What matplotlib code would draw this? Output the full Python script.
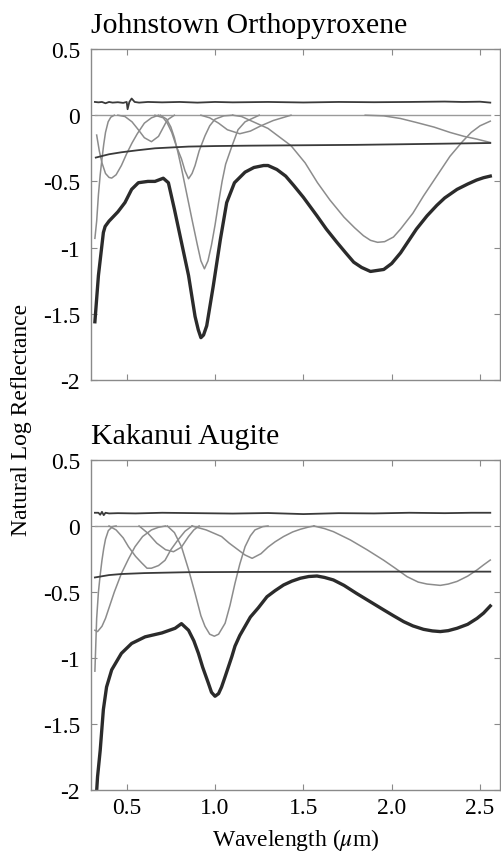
import matplotlib
matplotlib.use('Agg')
import matplotlib.pyplot as plt

plt.rcParams['font.family'] = ['Liberation Serif', 'DejaVu Serif']
plt.rcParams['mathtext.fontset'] = 'stix'
plt.rcParams['axes.unicode_minus'] = False

# ---------- Johnstown Orthopyroxene ----------
opx_wl = [0.32, 0.34, 0.368, 0.378, 0.40, 0.45, 0.49, 0.528, 0.566, 0.62, 0.66, 0.707,
          0.736, 0.77, 0.81, 0.85, 0.887, 0.905, 0.92, 0.935, 0.953, 0.99, 1.03, 1.066,
          1.11, 1.17, 1.22, 1.275, 1.30, 1.35, 1.40, 1.445, 1.50, 1.577, 1.63, 1.69, 1.74,
          1.785, 1.83, 1.88, 1.955, 2.0, 2.05, 2.14, 2.20, 2.256, 2.30, 2.37, 2.43, 2.48,
          2.52, 2.558]
opx_spec = [-1.56, -1.21, -0.886, -0.84, -0.80, -0.73, -0.66, -0.56, -0.51, -0.50, -0.50, -0.476,
            -0.51, -0.71, -0.96, -1.21, -1.52, -1.62, -1.68, -1.66, -1.59, -1.29, -0.94, -0.66,
            -0.51, -0.43, -0.395, -0.38, -0.38, -0.41, -0.46, -0.53, -0.62, -0.76, -0.86, -0.96, -1.04,
            -1.11, -1.15, -1.18, -1.165, -1.12, -1.04, -0.86, -0.76, -0.68, -0.625, -0.56, -0.52, -0.49,
            -0.472, -0.46]

opx_cont_wl = [0.325, 0.40, 0.47, 0.56, 0.66, 0.85, 1.0, 1.2, 1.5, 1.8, 2.03, 2.3, 2.558]
opx_cont = [-0.32, -0.295, -0.28, -0.265, -0.25, -0.237, -0.233, -0.23, -0.227, -0.224, -0.22, -0.215, -0.21]

opx_res_wl = [0.32, 0.34, 0.36, 0.38, 0.40, 0.42, 0.45, 0.48, 0.50, 0.505, 0.515, 0.528, 0.545,
              0.57, 0.62, 0.7, 0.8, 0.9, 1.0, 1.1, 1.3, 1.5, 1.7, 1.9, 2.1, 2.3, 2.4, 2.5, 2.558]
opx_res = [0.10, 0.097, 0.10, 0.09, 0.10, 0.095, 0.098, 0.093, 0.10, 0.045, 0.10, 0.126, 0.10,
           0.095, 0.10, 0.097, 0.10, 0.095, 0.10, 0.097, 0.10, 0.096, 0.10, 0.098, 0.10, 0.103, 0.10, 0.102, 0.095]

opx_bands = [
    ([0.32, 0.33, 0.34, 0.35, 0.36, 0.37, 0.38, 0.395, 0.41, 0.43],
     [-0.93, -0.80, -0.60, -0.45, -0.33, -0.22, -0.13, -0.05, -0.015, 0.0]),
    ([0.33, 0.345, 0.36, 0.38, 0.40, 0.415, 0.44, 0.47, 0.50, 0.53, 0.56, 0.60, 0.64, 0.68],
     [-0.15, -0.27, -0.36, -0.44, -0.47, -0.475, -0.45, -0.38, -0.29, -0.21, -0.14, -0.06, -0.02, 0.0]),
    ([0.45, 0.49, 0.53, 0.566, 0.60, 0.64, 0.68, 0.70, 0.72, 0.736, 0.77],
     [0.0, -0.01, -0.05, -0.11, -0.17, -0.20, -0.16, -0.11, -0.06, -0.03, 0.0]),
    ([0.66, 0.707, 0.73, 0.755, 0.78, 0.81, 0.83, 0.85, 0.87, 0.887, 0.91, 0.943, 0.97, 1.0, 1.05, 1.1],
     [0.0, -0.02, -0.06, -0.13, -0.23, -0.33, -0.42, -0.48, -0.44, -0.38, -0.27, -0.156, -0.08, -0.03, -0.005, 0.0]),
    ([0.69, 0.726, 0.75, 0.77, 0.79, 0.81, 0.83, 0.85, 0.87, 0.90, 0.92, 0.94, 0.96, 0.98, 1.00,
      1.02, 1.04, 1.06, 1.094, 1.13, 1.17, 1.25],
     [0.0, -0.03, -0.09, -0.17, -0.28, -0.40, -0.53, -0.66, -0.79, -0.98, -1.10, -1.16, -1.10, -0.98, -0.83,
      -0.66, -0.50, -0.37, -0.24, -0.11, -0.05, 0.0]),
    ([0.92, 0.97, 1.02, 1.07, 1.14, 1.2, 1.26, 1.33, 1.43],
     [0.0, -0.02, -0.06, -0.11, -0.14, -0.12, -0.08, -0.04, 0.0]),
    ([1.10, 1.15, 1.2, 1.3, 1.43, 1.51, 1.58, 1.65, 1.73, 1.79, 1.84, 1.88, 1.92, 1.96, 2.01, 2.05,
      2.12, 2.18, 2.26, 2.33, 2.40, 2.45, 2.5, 2.558],
     [0.0, -0.01, -0.04, -0.10, -0.23, -0.36, -0.51, -0.64, -0.77, -0.85, -0.91, -0.945, -0.96, -0.955,
      -0.92, -0.86, -0.74, -0.61, -0.45, -0.31, -0.20, -0.13, -0.08, -0.045]),
    ([1.85, 1.955, 2.05, 2.14, 2.24, 2.33, 2.41, 2.48, 2.558],
     [0.0, -0.005, -0.025, -0.055, -0.09, -0.13, -0.16, -0.18, -0.206]),
]

# ---------- Kakanui Augite ----------
aug_wl = [0.328, 0.335, 0.35, 0.368, 0.386, 0.415, 0.47, 0.528, 0.604, 0.70, 0.774, 0.81, 0.85,
          0.88, 0.906, 0.93, 0.962, 0.98, 1.0, 1.02, 1.037, 1.055, 1.075, 1.095, 1.113, 1.14,
          1.17, 1.2, 1.245, 1.294, 1.34, 1.388, 1.435, 1.483, 1.53, 1.577, 1.62, 1.67, 1.73,
          1.80, 1.88, 1.955, 2.01, 2.068, 2.12, 2.18, 2.23, 2.275, 2.32, 2.37, 2.43, 2.483,
          2.52, 2.558]
aug_spec = [-2.05, -1.90, -1.70, -1.39, -1.22, -1.09, -0.965, -0.89, -0.84, -0.81, -0.775, -0.74, -0.79,
            -0.87, -0.965, -1.07, -1.19, -1.26, -1.29, -1.27, -1.22, -1.15, -1.07, -0.99, -0.91, -0.83,
            -0.76, -0.69, -0.62, -0.536, -0.49, -0.447, -0.418, -0.396, -0.383, -0.379, -0.39, -0.409, -0.45,
            -0.51, -0.575, -0.636, -0.68, -0.725, -0.757, -0.783, -0.795, -0.80, -0.793, -0.775, -0.745, -0.70,
            -0.66, -0.606]

aug_cont_wl = [0.32, 0.40, 0.47, 0.6, 0.85, 1.2, 1.6, 2.0, 2.558]
aug_cont = [-0.39, -0.372, -0.364, -0.357, -0.35, -0.348, -0.347, -0.346, -0.346]

aug_res_wl = [0.32, 0.34, 0.35, 0.36, 0.37, 0.38, 0.40, 0.45, 0.55, 0.7, 0.9, 1.1, 1.3, 1.5,
              1.7, 1.9, 2.1, 2.3, 2.45, 2.558]
aug_res = [0.10, 0.10, 0.085, 0.107, 0.082, 0.10, 0.095, 0.097, 0.095, 0.10, 0.097, 0.094, 0.098, 0.09,
           0.097, 0.095, 0.10, 0.097, 0.10, 0.10]

aug_bands = [
    ([0.32, 0.33, 0.34, 0.35, 0.36, 0.37, 0.38, 0.396, 0.42, 0.44],
     [-1.10, -0.70, -0.50, -0.37, -0.26, -0.17, -0.10, -0.035, -0.005, 0.0]),
    ([0.32, 0.335, 0.36, 0.38, 0.396, 0.43, 0.47, 0.51, 0.547, 0.59, 0.64, 0.68, 0.72],
     [-0.79, -0.80, -0.76, -0.70, -0.636, -0.50, -0.36, -0.25, -0.157, -0.08, -0.03, -0.01, 0.0]),
    ([0.40, 0.44, 0.48, 0.51, 0.55, 0.585, 0.615, 0.64, 0.68, 0.717, 0.75, 0.79, 0.83, 0.87],
     [0.0, -0.03, -0.09, -0.157, -0.23, -0.28, -0.32, -0.32, -0.30, -0.26, -0.18, -0.106, -0.04, 0.0]),
    ([0.57, 0.62, 0.67, 0.72, 0.765, 0.81, 0.85, 0.88, 0.91],
     [0.0, -0.055, -0.13, -0.18, -0.195, -0.16, -0.08, -0.03, 0.0]),
    ([0.73, 0.77, 0.81, 0.85, 0.887, 0.92, 0.943, 0.97, 0.996, 1.02, 1.057, 1.085, 1.113, 1.14,
      1.17, 1.2, 1.226, 1.27, 1.3],
     [0.0, -0.05, -0.157, -0.33, -0.51, -0.68, -0.76, -0.82, -0.835, -0.82, -0.737, -0.60, -0.434, -0.29,
      -0.157, -0.075, -0.03, -0.005, 0.0]),
    ([0.87, 0.95, 1.037, 1.08, 1.13, 1.17, 1.21, 1.26, 1.30, 1.34, 1.388, 1.44, 1.483, 1.53, 1.56],
     [0.0, -0.03, -0.08, -0.13, -0.18, -0.22, -0.245, -0.21, -0.16, -0.12, -0.08, -0.045, -0.025, -0.008, 0.0]),
    ([1.56, 1.62, 1.67, 1.766, 1.86, 1.955, 2.02, 2.087, 2.15, 2.20, 2.275, 2.32, 2.37, 2.43,
      2.483, 2.52, 2.558],
     [0.0, -0.02, -0.043, -0.106, -0.18, -0.26, -0.32, -0.384, -0.425, -0.44, -0.45, -0.44, -0.42, -0.38,
      -0.333, -0.295, -0.258]),
]

panels = [
    ('Johnstown Orthopyroxene', opx_wl, opx_spec, opx_cont_wl, opx_cont, opx_res_wl, opx_res, opx_bands),
    ('Kakanui Augite', aug_wl, aug_spec, aug_cont_wl, aug_cont, aug_res_wl, aug_res, aug_bands),
]

dark = '#2b2b2b'
band_gray = '#8c8c8c'
frame_gray = '#8a8a8a'

fig = plt.figure(figsize=(5.02, 8.53), dpi=100)
axes_rects = [[0.1813, 0.5533, 0.8147, 0.3881], [0.1813, 0.0727, 0.8147, 0.3869]]
title_y = [1 - 33 / 853, 1 - 444 / 853]

for i, (title, wl, spec, cwl, cont, rwl, res, bands) in enumerate(panels):
    ax = fig.add_axes(axes_rects[i])
    ax.plot([0.32, 2.558], [0, 0], color='#9a9a9a', lw=1.0)
    for bwl, bval in bands:
        ax.plot(bwl, bval, color=band_gray, lw=1.1)
    ax.plot(cwl, cont, color='#3a3a3a', lw=1.3)
    ax.plot(rwl, res, color='#3a3a3a', lw=1.3)
    ax.plot(wl, spec, color=dark, lw=2.4, solid_joinstyle='round')

    ax.set_xlim(0.298, 2.613)
    ax.set_ylim(-2, 0.5)
    ax.set_xticks([0.5, 1.0, 1.5, 2.0, 2.5])
    ax.set_yticks([0.5, 0, -0.5, -1, -1.5, -2])
    ax.set_yticklabels(['0.5', '0', '-0.5', '-1', '-1.5', '-2'])
    if i == 1:
        ax.set_xticklabels(['0.5', '1.0', '1.5', '2.0', '2.5'])
    else:
        ax.set_xticklabels([])
    ax.tick_params(direction='in', top=True, right=True, length=4, width=0.8,
                   color=frame_gray, labelsize=17, labelcolor='black')
    ax.tick_params(axis='y', pad=8)
    ax.tick_params(axis='x', pad=5)
    for s in ax.spines.values():
        s.set_color(frame_gray)
        s.set_linewidth(1.0)
    fig.text(0.1813, title_y[i], title, fontsize=21.5, ha='left', va='baseline')

fig.text(22 / 502, 1 - 420 / 853, 'Natural Log Reflectance', rotation=90,
         ha='center', va='center', fontsize=17)
fig.text(296 / 502, 1 - 846 / 853, r'Wavelength ($\mu$m)', ha='center', va='baseline', fontsize=17)

fig.savefig('out.png', dpi=100, facecolor='white')
